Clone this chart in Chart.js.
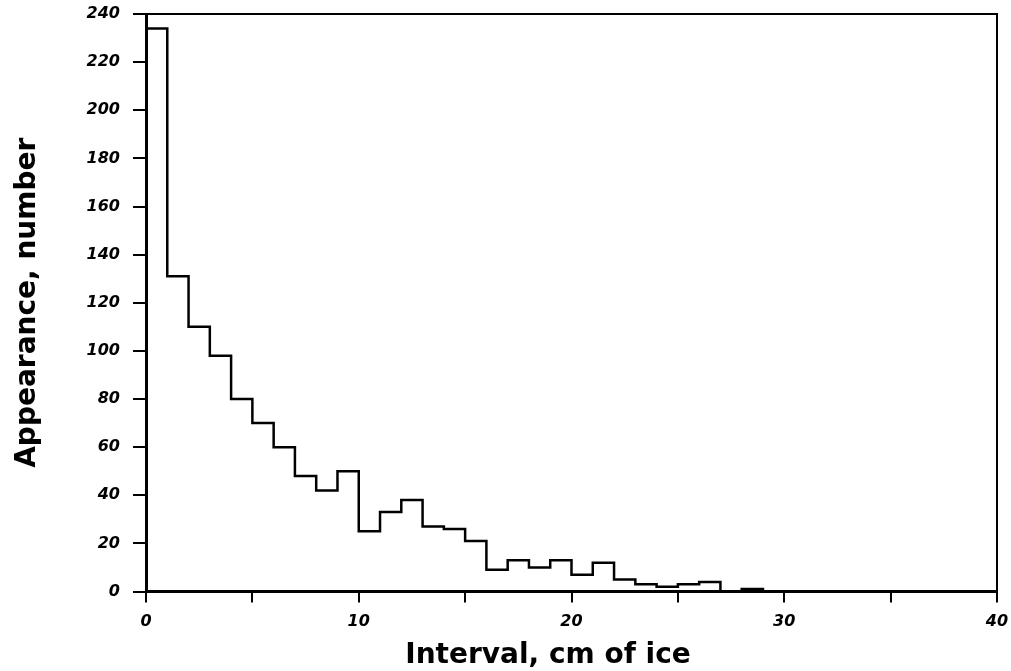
<!DOCTYPE html>
<html>
<head>
<meta charset="utf-8">
<script src="https://cdn.jsdelivr.net/npm/chart.js@4"></script>
<style>
  html, body { margin: 0; padding: 0; background: #fff; }
  #wrap { width: 1011px; height: 671px; }
</style>
</head>
<body>
<div id="wrap"><canvas id="hist" width="1011" height="671"></canvas></div>
<script>
// Histogram bins (1 cm wide), left edges
const binStart = [0, 1, 2, 3, 4, 5, 6, 7, 8, 9, 10, 11, 12, 13, 14, 15, 16, 17, 18, 19,
                  20, 21, 22, 23, 24, 25, 26, 27, 28, 29, 30, 31, 32, 33, 34, 35, 36, 37, 38, 39];
const lastEdge = 40;
// Appearance counts per bin
const counts = [234, 131, 110, 98, 80, 70, 60, 48, 42, 50, 25, 33, 38, 27, 26, 21, 9, 13, 10, 13,
                7, 12, 5, 3, 2, 3, 4, 0, 1, 0, 0, 0, 0, 0, 0, 0, 0, 0, 0, 0];
const xTickLabels = [0, 10, 20, 30, 40];

const xTitle = "Interval, cm of ice";
const yTitle = "Appearance, number";

const tickFont = { family: "DejaVu Sans", size: 16, weight: "bold", style: "italic" };
const titleFont = { family: "DejaVu Sans", size: 28, weight: "bold", lineHeight: 1.2 };

// points for the step line (horizontal at each bin's count, then step)
const points = binStart.map((x, i) => ({ x: x, y: counts[i] }));
points.push({ x: lastEdge, y: 0 });

// box on top / right + x title
const frame = {
  id: "frame",
  afterDraw(chart) {
    const { ctx, chartArea: a } = chart;
    ctx.save();
    ctx.strokeStyle = "#000";
    ctx.lineWidth = 2;
    ctx.beginPath();
    ctx.moveTo(a.left, a.top);
    ctx.lineTo(a.right, a.top);
    ctx.lineTo(a.right, a.bottom);
    ctx.stroke();

    ctx.fillStyle = "#000";
    ctx.font = `bold ${titleFont.size}px "${titleFont.family}"`;
    ctx.textAlign = "center";
    ctx.textBaseline = "middle";
    ctx.fillText(xTitle, 548, 656);
    ctx.restore();
  }
};

new Chart(document.getElementById("hist"), {
  type: "line",
  data: {
    datasets: [{
      data: points,
      stepped: "before",
      borderColor: "#000",
      borderWidth: 2.5,
      pointRadius: 0,
      fill: false
    }]
  },
  options: {
    responsive: false,
    animation: false,
    devicePixelRatio: 1,
    layout: { padding: { top: 14, right: 14, left: 0, bottom: 0 } },
    plugins: { legend: { display: false }, tooltip: { enabled: false } },
    scales: {
      x: {
        type: "linear",
        min: 0,
        max: 40,
        afterFit: s => {
          s.height = 671 - 591.5;
          s.paddingLeft = 0;
          s.paddingRight = 0;
        },
        border: { color: "#000", width: 3 },
        grid: { drawOnChartArea: false, color: "#000", lineWidth: 2, tickLength: 11 },
        ticks: {
          stepSize: 5,
          autoSkip: false,
          maxRotation: 0,
          padding: 10,
          color: "#000",
          font: tickFont,
          callback: v => xTickLabels.includes(v) ? String(v) : ""
        }
      },
      y: {
        min: 0,
        max: 240,
        afterFit: s => {
          s.width = 146;
          s.paddingTop = 0;
          s.paddingBottom = 0;
        },
        border: { color: "#000", width: 3 },
        grid: { drawOnChartArea: false, color: "#000", lineWidth: 2, tickLength: 13 },
        ticks: { stepSize: 20, padding: 13, color: "#000", font: tickFont },
        title: {
          display: true,
          text: yTitle,
          color: "#000",
          font: titleFont,
          padding: { top: 11, bottom: 0 }
        }
      }
    }
  },
  plugins: [frame]
});
</script>
</body>
</html>
